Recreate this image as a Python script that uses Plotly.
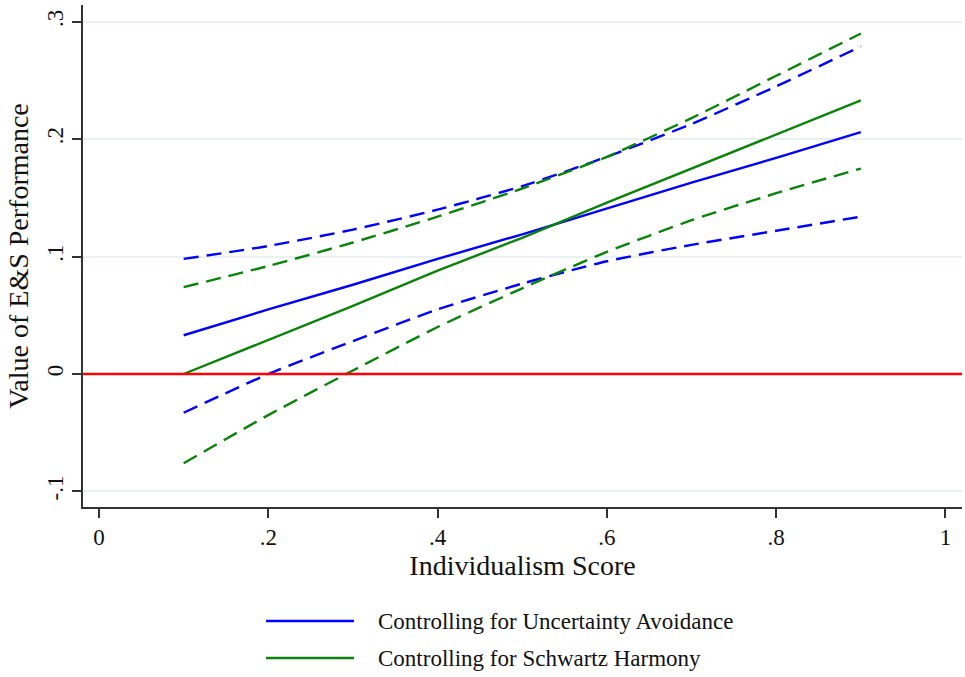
import plotly.graph_objects as go

x_vals = [0.1, 0.2, 0.3, 0.4, 0.5, 0.6, 0.7, 0.8, 0.9]

ua_mid = [0.033, 0.055, 0.076, 0.098, 0.119, 0.141, 0.163, 0.184, 0.206]
ua_upper = [0.098, 0.109, 0.123, 0.140, 0.160, 0.185, 0.213, 0.245, 0.279]
ua_lower = [-0.033, 0.000, 0.028, 0.055, 0.077, 0.096, 0.110, 0.122, 0.134]

sh_mid = [0.000, 0.029, 0.058, 0.088, 0.116, 0.146, 0.175, 0.204, 0.233]
sh_upper = [0.074, 0.092, 0.112, 0.134, 0.158, 0.185, 0.218, 0.254, 0.290]
sh_lower = [-0.076, -0.035, 0.003, 0.040, 0.073, 0.104, 0.131, 0.154, 0.175]

x_ticks = [0, 0.2, 0.4, 0.6, 0.8, 1]
x_tick_text = ["0", ".2", ".4", ".6", ".8", "1"]
y_ticks = [-0.1, 0, 0.1, 0.2, 0.3]
y_tick_text = ["-.1", "0", ".1", ".2", ".3"]

legend_labels = ["Controlling for Uncertainty Avoidance", "Controlling for Schwartz Harmony"]

BLUE = "#0000ff"
GREEN = "#0a820a"
RED = "#ff0000"
FONT = "Liberation Serif"
DASH = "15px,8px"
TXT = "#111111"

fig = go.Figure()

fig.add_trace(go.Scatter(x=x_vals, y=ua_mid, mode="lines", line=dict(color=BLUE, width=2.4),
                         name=legend_labels[0], showlegend=False))
fig.add_trace(go.Scatter(x=x_vals, y=sh_mid, mode="lines", line=dict(color=GREEN, width=2.4),
                         name=legend_labels[1], showlegend=False))
for ys, c in [(ua_upper, BLUE), (ua_lower, BLUE), (sh_upper, GREEN), (sh_lower, GREEN)]:
    fig.add_trace(go.Scatter(x=x_vals, y=ys, mode="lines",
                             line=dict(color=c, width=2.4, dash=DASH, shape="spline", smoothing=0.6),
                             showlegend=False, hoverinfo="skip"))

fig.add_shape(type="line", xref="paper", x0=0, x1=1, yref="y", y0=0, y1=0,
              line=dict(color=RED, width=2.5), layer="above")

# legend drawn below the plot (paper coordinates)
leg_rows = [-0.2271, -0.3008]
for lbl, col, yy in zip(legend_labels, [BLUE, GREEN], leg_rows):
    fig.add_shape(type="line", xref="paper", yref="paper", x0=0.2082, x1=0.3083, y0=yy, y1=yy,
                  line=dict(color=col, width=2.5))
    fig.add_annotation(xref="paper", yref="paper", x=0.3333, y=yy, xanchor="left", yanchor="middle",
                       text=lbl, showarrow=False, font=dict(family=FONT, size=23, color=TXT))

fig.update_layout(
    width=965, height=677,
    margin=dict(l=83, r=3, t=5, b=170),
    paper_bgcolor="white", plot_bgcolor="white",
    font=dict(family=FONT, color=TXT, size=23),
    showlegend=False,
    xaxis=dict(
        range=[-0.0189, 1.0195], tickvals=x_ticks, ticktext=x_tick_text,
        showgrid=False, zeroline=False, showline=True, linecolor="#333333", linewidth=1.5,
        ticks="outside", ticklen=9, tickwidth=1.5, tickcolor="#333333",
        tickfont=dict(family=FONT, size=23),
        title=dict(text="Individualism Score", font=dict(family=FONT, size=28), standoff=6),
    ),
    yaxis=dict(
        range=[-0.1133, 0.3143], tickvals=y_ticks, ticktext=y_tick_text, tickangle=-90,
        showgrid=True, gridcolor="#e8f0f2", gridwidth=1.5,
        zeroline=False, showline=True, linecolor="#333333", linewidth=1.5,
        ticks="outside", ticklen=9, tickwidth=1.5, tickcolor="#333333",
        tickfont=dict(family=FONT, size=23),
        title=dict(text="Value of E&S Performance", font=dict(family=FONT, size=28), standoff=6),
    ),
)

fig.write_html("out.html")
